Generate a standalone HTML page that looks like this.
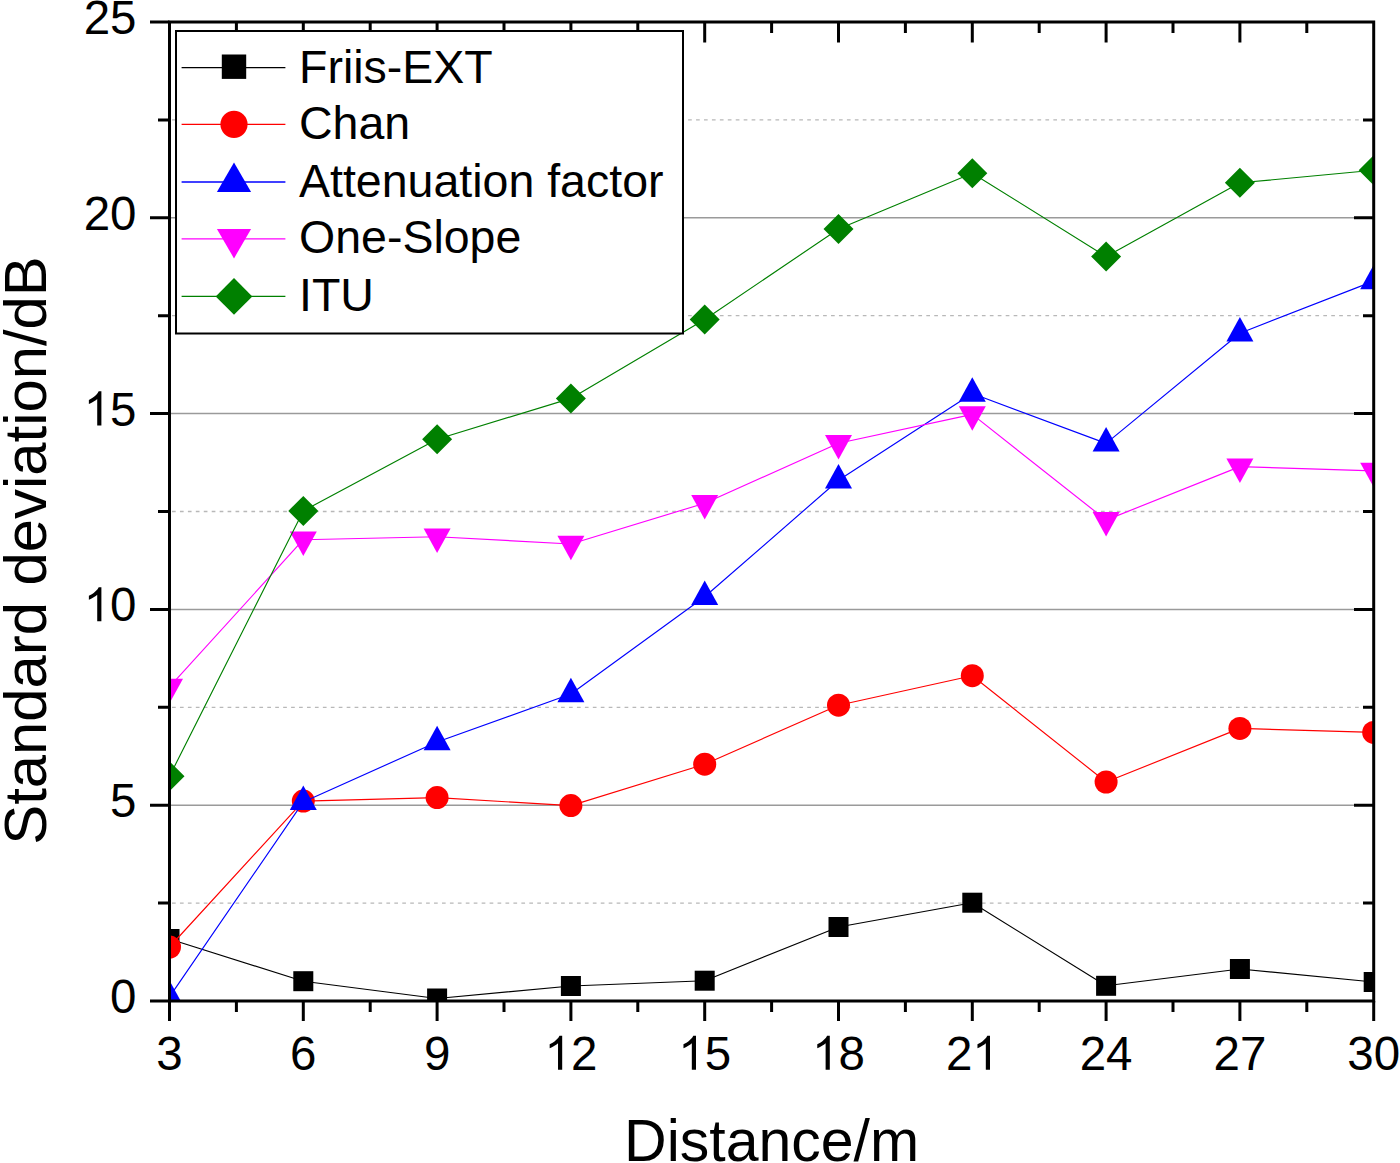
<!DOCTYPE html>
<html><head><meta charset="utf-8"><style>
html,body{margin:0;padding:0;background:#fff;}
body{width:1400px;height:1163px;overflow:hidden;}
svg{display:block;}
text{font-family:"Liberation Sans",sans-serif;fill:#000;}
</style></head><body>
<svg width="1400" height="1163" viewBox="0 0 1400 1163">
<rect width="1400" height="1163" fill="#fff"/>
<defs><clipPath id="pc"><rect x="169.5" y="22" width="1204.2" height="979"/></clipPath></defs>

<line x1="171" y1="805.2" x2="1372" y2="805.2" stroke="#9a9a9a" stroke-width="1.5"/>
<line x1="171" y1="609.4" x2="1372" y2="609.4" stroke="#9a9a9a" stroke-width="1.5"/>
<line x1="171" y1="413.6" x2="1372" y2="413.6" stroke="#9a9a9a" stroke-width="1.5"/>
<line x1="171" y1="217.8" x2="1372" y2="217.8" stroke="#9a9a9a" stroke-width="1.5"/>
<line x1="172" y1="903.1" x2="1372" y2="903.1" stroke="#b8b8b8" stroke-width="1.3" stroke-dasharray="3.7 4.24"/>
<line x1="172" y1="707.3" x2="1372" y2="707.3" stroke="#b8b8b8" stroke-width="1.3" stroke-dasharray="3.7 4.24"/>
<line x1="172" y1="511.5" x2="1372" y2="511.5" stroke="#b8b8b8" stroke-width="1.3" stroke-dasharray="3.7 4.24"/>
<line x1="172" y1="315.7" x2="1372" y2="315.7" stroke="#b8b8b8" stroke-width="1.3" stroke-dasharray="3.7 4.24"/>
<line x1="172" y1="119.9" x2="1372" y2="119.9" stroke="#b8b8b8" stroke-width="1.3" stroke-dasharray="3.7 4.24"/>
<g clip-path="url(#pc)">
<polyline points="169.5,939 303.3,981.2 437.1,998.5 570.9,986 704.7,980.7 838.5,927 972.3,902.7 1106.1,985.8 1239.9,969 1373.7,982" fill="none" stroke="#000000" stroke-width="1.15" stroke-linejoin="round"/>
<rect x="159.5" y="929" width="20" height="20" fill="#000000"/>
<rect x="293.3" y="971.2" width="20" height="20" fill="#000000"/>
<rect x="427.1" y="988.5" width="20" height="20" fill="#000000"/>
<rect x="560.9" y="976" width="20" height="20" fill="#000000"/>
<rect x="694.7" y="970.7" width="20" height="20" fill="#000000"/>
<rect x="828.5" y="917" width="20" height="20" fill="#000000"/>
<rect x="962.3" y="892.7" width="20" height="20" fill="#000000"/>
<rect x="1096.1" y="975.8" width="20" height="20" fill="#000000"/>
<rect x="1229.9" y="959" width="20" height="20" fill="#000000"/>
<rect x="1363.7" y="972" width="20" height="20" fill="#000000"/>
<polyline points="169.5,947 303.3,801.1 437.1,797.6 570.9,805.6 704.7,764.2 838.5,705.2 972.3,675.7 1106.1,782 1239.9,728.4 1373.7,732.4" fill="none" stroke="#FF0000" stroke-width="1.15" stroke-linejoin="round"/>
<circle cx="169.5" cy="947" r="11.5" fill="#FF0000"/>
<circle cx="303.3" cy="801.1" r="11.5" fill="#FF0000"/>
<circle cx="437.1" cy="797.6" r="11.5" fill="#FF0000"/>
<circle cx="570.9" cy="805.6" r="11.5" fill="#FF0000"/>
<circle cx="704.7" cy="764.2" r="11.5" fill="#FF0000"/>
<circle cx="838.5" cy="705.2" r="11.5" fill="#FF0000"/>
<circle cx="972.3" cy="675.7" r="11.5" fill="#FF0000"/>
<circle cx="1106.1" cy="782" r="11.5" fill="#FF0000"/>
<circle cx="1239.9" cy="728.4" r="11.5" fill="#FF0000"/>
<circle cx="1373.7" cy="732.4" r="11.5" fill="#FF0000"/>
<polyline points="169.5,996.8 303.3,801.9 437.1,742 570.9,694 704.7,596.8 838.5,480.3 972.3,393.5 1106.1,443.4 1239.9,333.2 1373.7,281.1" fill="none" stroke="#0000FF" stroke-width="1.15" stroke-linejoin="round"/>
<path d="M169.5 980.5L183 1005L156 1005Z" fill="#0000FF"/>
<path d="M303.3 785.6L316.8 810.1L289.8 810.1Z" fill="#0000FF"/>
<path d="M437.1 725.7L450.6 750.2L423.6 750.2Z" fill="#0000FF"/>
<path d="M570.9 677.7L584.4 702.2L557.4 702.2Z" fill="#0000FF"/>
<path d="M704.7 580.5L718.2 605L691.2 605Z" fill="#0000FF"/>
<path d="M838.5 464L852 488.5L825 488.5Z" fill="#0000FF"/>
<path d="M972.3 377.2L985.8 401.7L958.8 401.7Z" fill="#0000FF"/>
<path d="M1106.1 427.1L1119.6 451.6L1092.6 451.6Z" fill="#0000FF"/>
<path d="M1239.9 316.9L1253.4 341.4L1226.4 341.4Z" fill="#0000FF"/>
<path d="M1373.7 264.8L1387.2 289.3L1360.2 289.3Z" fill="#0000FF"/>
<polyline points="169.5,686.9 303.3,539.7 437.1,536.7 570.9,544 704.7,503.2 838.5,443.3 972.3,414.4 1106.1,520.1 1239.9,466.6 1373.7,470.9" fill="none" stroke="#FF00FF" stroke-width="1.15" stroke-linejoin="round"/>
<path d="M169.5 703.2L183 678.7L156 678.7Z" fill="#FF00FF"/>
<path d="M303.3 556L316.8 531.5L289.8 531.5Z" fill="#FF00FF"/>
<path d="M437.1 553L450.6 528.5L423.6 528.5Z" fill="#FF00FF"/>
<path d="M570.9 560.3L584.4 535.8L557.4 535.8Z" fill="#FF00FF"/>
<path d="M704.7 519.5L718.2 495L691.2 495Z" fill="#FF00FF"/>
<path d="M838.5 459.6L852 435.1L825 435.1Z" fill="#FF00FF"/>
<path d="M972.3 430.7L985.8 406.2L958.8 406.2Z" fill="#FF00FF"/>
<path d="M1106.1 536.4L1119.6 511.9L1092.6 511.9Z" fill="#FF00FF"/>
<path d="M1239.9 482.9L1253.4 458.4L1226.4 458.4Z" fill="#FF00FF"/>
<path d="M1373.7 487.2L1387.2 462.7L1360.2 462.7Z" fill="#FF00FF"/>
<polyline points="169.5,776.3 303.3,510.9 437.1,439.2 570.9,398.4 704.7,319.5 838.5,229 972.3,173.2 1106.1,256.6 1239.9,182.8 1373.7,170.3" fill="none" stroke="#008000" stroke-width="1.15" stroke-linejoin="round"/>
<path d="M169.5 761.3L184.5 776.3L169.5 791.3L154.5 776.3Z" fill="#008000"/>
<path d="M303.3 495.9L318.3 510.9L303.3 525.9L288.3 510.9Z" fill="#008000"/>
<path d="M437.1 424.2L452.1 439.2L437.1 454.2L422.1 439.2Z" fill="#008000"/>
<path d="M570.9 383.4L585.9 398.4L570.9 413.4L555.9 398.4Z" fill="#008000"/>
<path d="M704.7 304.5L719.7 319.5L704.7 334.5L689.7 319.5Z" fill="#008000"/>
<path d="M838.5 214L853.5 229L838.5 244L823.5 229Z" fill="#008000"/>
<path d="M972.3 158.2L987.3 173.2L972.3 188.2L957.3 173.2Z" fill="#008000"/>
<path d="M1106.1 241.6L1121.1 256.6L1106.1 271.6L1091.1 256.6Z" fill="#008000"/>
<path d="M1239.9 167.8L1254.9 182.8L1239.9 197.8L1224.9 182.8Z" fill="#008000"/>
<path d="M1373.7 155.3L1388.7 170.3L1373.7 185.3L1358.7 170.3Z" fill="#008000"/>
</g>
<rect x="169.5" y="22.0" width="1204.2" height="979" fill="none" stroke="#000" stroke-width="3"/>
<path d="M150 1001H169.5M150 805.2H169.5M1354 805.2H1373.7M150 609.4H169.5M1354 609.4H1373.7M150 413.6H169.5M1354 413.6H1373.7M150 217.8H169.5M1354 217.8H1373.7M150 22H169.5M158 903.1H169.5M1363 903.1H1373.7M158 707.3H169.5M1363 707.3H1373.7M158 511.5H169.5M1363 511.5H1373.7M158 315.7H169.5M1363 315.7H1373.7M158 119.9H169.5M1363 119.9H1373.7M169.5 1001.0V1021M303.3 1001.0V1021M303.3 22.0V42.5M437.1 1001.0V1021M437.1 22.0V42.5M570.9 1001.0V1021M570.9 22.0V42.5M704.7 1001.0V1021M704.7 22.0V42.5M838.5 1001.0V1021M838.5 22.0V42.5M972.3 1001.0V1021M972.3 22.0V42.5M1106.1 1001.0V1021M1106.1 22.0V42.5M1239.9 1001.0V1021M1239.9 22.0V42.5M1373.7 1001.0V1021M236.4 1001.0V1012M236.4 22.0V33M370.2 1001.0V1012M370.2 22.0V33M504 1001.0V1012M504 22.0V33M637.8 1001.0V1012M637.8 22.0V33M771.6 1001.0V1012M771.6 22.0V33M905.4 1001.0V1012M905.4 22.0V33M1039.2 1001.0V1012M1039.2 22.0V33M1173 1001.0V1012M1173 22.0V33M1306.8 1001.0V1012M1306.8 22.0V33" stroke="#000" stroke-width="3" fill="none"/>
<text x="110.1" y="1012.9" font-size="47.5">0</text>
<text x="110.1" y="817.1" font-size="47.5">5</text>
<path transform="translate(83.7 621.3) scale(0.02319 -0.02319)" d="M763 0L583 0L583 1147Q518 1085 465 1054Q412 1023 359 992Q306 961 223 930L223 1104Q374 1175 430.5 1225.5Q487 1276 543.5 1326.5Q600 1377 647 1472L763 1472Z"/><text x="110.1" y="621.3" font-size="47.5">0</text>
<path transform="translate(83.7 425.5) scale(0.02319 -0.02319)" d="M763 0L583 0L583 1147Q518 1085 465 1054Q412 1023 359 992Q306 961 223 930L223 1104Q374 1175 430.5 1225.5Q487 1276 543.5 1326.5Q600 1377 647 1472L763 1472Z"/><text x="110.1" y="425.5" font-size="47.5">5</text>
<text x="83.7" y="229.7" font-size="47.5">2</text><text x="110.1" y="229.7" font-size="47.5">0</text>
<text x="83.7" y="33.9" font-size="47.5">2</text><text x="110.1" y="33.9" font-size="47.5">5</text>
<text x="156.3" y="1069.8" font-size="47.5">3</text>
<text x="290.1" y="1069.8" font-size="47.5">6</text>
<text x="423.9" y="1069.8" font-size="47.5">9</text>
<path transform="translate(544.5 1069.8) scale(0.02319 -0.02319)" d="M763 0L583 0L583 1147Q518 1085 465 1054Q412 1023 359 992Q306 961 223 930L223 1104Q374 1175 430.5 1225.5Q487 1276 543.5 1326.5Q600 1377 647 1472L763 1472Z"/><text x="570.9" y="1069.8" font-size="47.5">2</text>
<path transform="translate(678.3 1069.8) scale(0.02319 -0.02319)" d="M763 0L583 0L583 1147Q518 1085 465 1054Q412 1023 359 992Q306 961 223 930L223 1104Q374 1175 430.5 1225.5Q487 1276 543.5 1326.5Q600 1377 647 1472L763 1472Z"/><text x="704.7" y="1069.8" font-size="47.5">5</text>
<path transform="translate(812.1 1069.8) scale(0.02319 -0.02319)" d="M763 0L583 0L583 1147Q518 1085 465 1054Q412 1023 359 992Q306 961 223 930L223 1104Q374 1175 430.5 1225.5Q487 1276 543.5 1326.5Q600 1377 647 1472L763 1472Z"/><text x="838.5" y="1069.8" font-size="47.5">8</text>
<text x="945.9" y="1069.8" font-size="47.5">2</text><path transform="translate(972.3 1069.8) scale(0.02319 -0.02319)" d="M763 0L583 0L583 1147Q518 1085 465 1054Q412 1023 359 992Q306 961 223 930L223 1104Q374 1175 430.5 1225.5Q487 1276 543.5 1326.5Q600 1377 647 1472L763 1472Z"/>
<text x="1079.7" y="1069.8" font-size="47.5">2</text><text x="1106.1" y="1069.8" font-size="47.5">4</text>
<text x="1213.5" y="1069.8" font-size="47.5">2</text><text x="1239.9" y="1069.8" font-size="47.5">7</text>
<text x="1347.3" y="1069.8" font-size="47.5">3</text><text x="1373.7" y="1069.8" font-size="47.5">0</text>
<text x="771.6" y="1161" font-size="59" text-anchor="middle">Distance/m</text>
<text transform="translate(45.6 550.5) rotate(-90)" x="0" y="0" font-size="59.8" text-anchor="middle">Standard deviation/dB</text>
<rect x="176" y="31" width="507" height="302.5" fill="#fff" stroke="#000" stroke-width="2"/>
<line x1="181.6" y1="67.7" x2="285.4" y2="67.7" stroke="#000000" stroke-width="1.3"/>
<rect x="221.8" y="54.5" width="24.4" height="24.4" fill="#000000"/>
<text x="299" y="82.7" font-size="46.5">Friis-EXT</text>
<line x1="181.6" y1="124.3" x2="285.4" y2="124.3" stroke="#FF0000" stroke-width="1.3"/>
<circle cx="234" cy="124.3" r="13.6" fill="#FF0000"/>
<text x="299" y="139.2" font-size="46.5">Chan</text>
<line x1="181.6" y1="182" x2="285.4" y2="182" stroke="#0000FF" stroke-width="1.3"/>
<path d="M234 162.4L251.1 191.9L216.9 191.9Z" fill="#0000FF"/>
<text x="299" y="196.7" font-size="46.5">Attenuation factor</text>
<line x1="181.6" y1="238.8" x2="285.4" y2="238.8" stroke="#FF00FF" stroke-width="1.3"/>
<path d="M234 258.4L251.1 228.9L216.9 228.9Z" fill="#FF00FF"/>
<text x="299" y="253.2" font-size="46.5">One-Slope</text>
<line x1="181.6" y1="296.4" x2="285.4" y2="296.4" stroke="#008000" stroke-width="1.3"/>
<path d="M234 278.1L252.3 296.4L234 314.7L215.7 296.4Z" fill="#008000"/>
<text x="299" y="310.7" font-size="46.5">ITU</text>
</svg>
</body></html>
